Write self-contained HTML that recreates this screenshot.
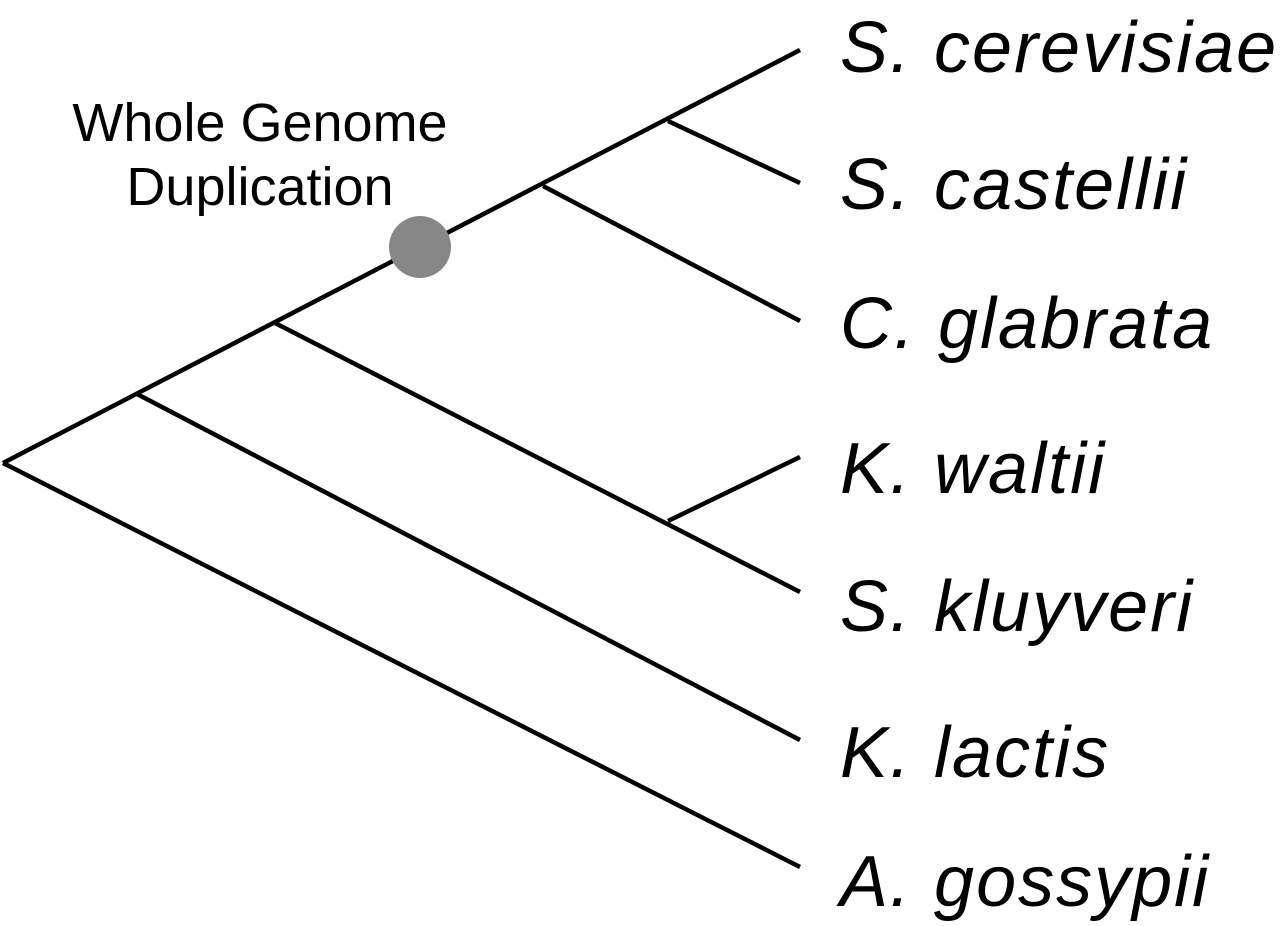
<!DOCTYPE html>
<html><head><style>body{margin:0;background:#fff}svg{display:block}</style></head><body>
<svg width="1280" height="926" viewBox="0 0 1280 926" xmlns="http://www.w3.org/2000/svg">
<g stroke="#000" stroke-width="4.5" fill="none" stroke-linecap="butt">
<line x1="3" y1="463" x2="800" y2="50"/>
<line x1="3" y1="463" x2="800" y2="867"/>
<line x1="137" y1="394" x2="800" y2="740"/>
<line x1="275" y1="323" x2="800" y2="592"/>
<line x1="668" y1="521" x2="800" y2="457"/>
<line x1="543" y1="186" x2="800" y2="321"/>
<line x1="668" y1="121" x2="800" y2="183"/>
</g>
<circle cx="420" cy="247" r="31" fill="#878787"/>
<g font-family="Liberation Sans, sans-serif" font-size="54" fill="#000" text-anchor="middle">
<text x="260" y="141">Whole Genome</text>
<text x="260" y="205">Duplication</text>
</g>
<g font-family="Liberation Sans, sans-serif" font-style="italic" font-size="72" fill="#000" letter-spacing="2">
<text x="840" y="72">S. cerevisiae</text>
<text x="840" y="209">S. castellii</text>
<text x="840" y="348">C. glabrata</text>
<text x="840" y="493">K. waltii</text>
<text x="840" y="631">S. kluyveri</text>
<text x="840" y="777">K. lactis</text>
<text x="840" y="906">A. gossypii</text>
</g>
</svg>
</body></html>
